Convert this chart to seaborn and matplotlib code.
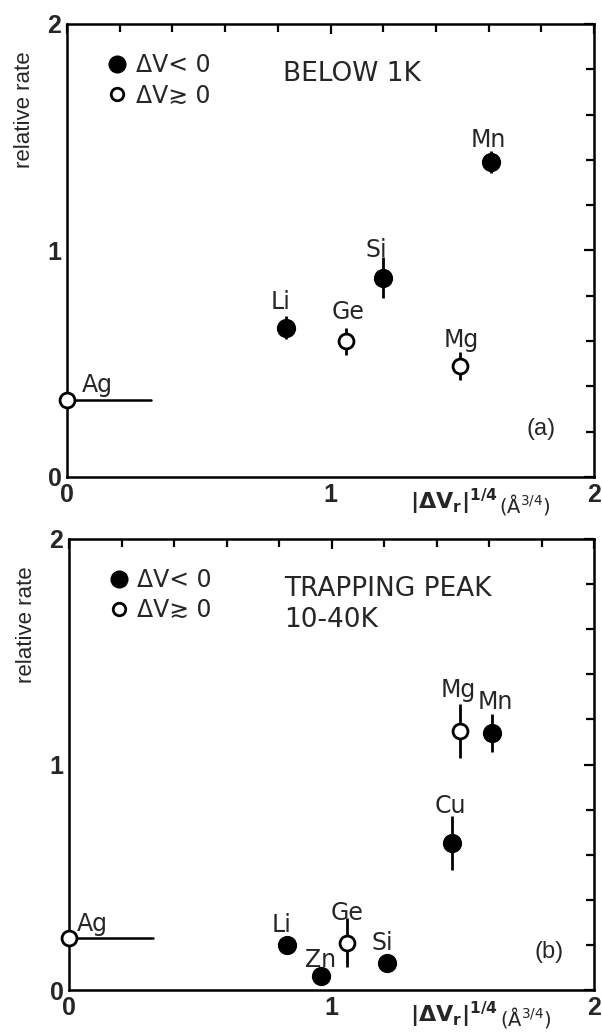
import pandas as pd
import seaborn as sns
import matplotlib.pyplot as plt
from matplotlib.lines import Line2D
from matplotlib.ticker import MultipleLocator

# panel (a): below 1K
elem_a = ['Ag', 'Li', 'Ge', 'Si', 'Mg', 'Mn']
x_a = [0.0, 0.83, 1.06, 1.20, 1.49, 1.61]
rate_a = [0.34, 0.66, 0.60, 0.88, 0.49, 1.39]
err_a = [0.0, 0.05, 0.06, 0.09, 0.06, 0.05]
neg_a = [False, True, False, True, False, True]

# panel (b): trapping peak 10-40K
elem_b = ['Ag', 'Li', 'Zn', 'Ge', 'Si', 'Cu', 'Mg', 'Mn']
x_b = [0.0, 0.83, 0.96, 1.06, 1.21, 1.46, 1.49, 1.61]
rate_b = [0.23, 0.20, 0.06, 0.21, 0.12, 0.65, 1.15, 1.14]
err_b = [0.0, 0.03, 0.04, 0.11, 0.0, 0.12, 0.12, 0.085]
neg_b = [False, True, True, False, True, True, False, True]

major_ticks = [0, 1, 2]
tick_labels = ['0', '1', '2']

# Ag reference line runs out to this x
ag_line_end = 0.32

# label offsets (points) from each marker
offs_a = {'Ag': (22, 6), 'Li': (-4, 13), 'Ge': (1, 16), 'Si': (-5, 15),
          'Mg': (1, 14), 'Mn': (-2, 11)}
offs_b = {'Ag': (17, 5), 'Li': (-4, 9), 'Zn': (0, 6.5), 'Ge': (0, 16),
          'Si': (-3, 9), 'Cu': (-1, 22), 'Mg': (-1, 24), 'Mn': (3, 17)}

sns.set_style('white')
plt.rcParams['font.family'] = ['DejaVu Sans']

tick_font = dict(fontsize=18, fontweight='bold', family='Liberation Sans')


def panel(ax, elem, x, rate, err, neg, offs, title, tag, tag_xy):
    df = pd.DataFrame({'elem': elem, 'x': x, 'rate': rate, 'err': err, 'neg': neg})

    # Ag horizontal line
    ag = df[df['elem'] == 'Ag']
    ax.plot([0, ag_line_end], [ag['rate'].iloc[0]] * 2, color='black', lw=1.8, zorder=2)

    # error bars
    e = df[df['err'] > 0]
    ax.errorbar(e['x'], e['rate'], yerr=e['err'], fmt='none', ecolor='black',
                elinewidth=2, capsize=0, zorder=2)

    sns.scatterplot(data=df[df['neg']], x='x', y='rate', color='black',
                    edgecolor='black', s=165, linewidth=1, ax=ax, zorder=3, clip_on=False)
    sns.scatterplot(data=df[~df['neg']], x='x', y='rate', color='white',
                    edgecolor='black', s=115, linewidth=2, ax=ax, zorder=3, clip_on=False)

    for _, r in df.iterrows():
        ax.annotate(r['elem'], (r['x'], r['rate']), xytext=offs[r['elem']],
                    textcoords='offset points', ha='center', va='baseline',
                    fontsize=17)

    ax.set_xlim(0, 2)
    ax.set_ylim(0, 2)
    ax.set_xticks(major_ticks)
    ax.set_yticks(major_ticks)
    ax.set_xticklabels(tick_labels, **tick_font)
    ax.set_yticklabels(tick_labels, **tick_font)
    ax.xaxis.set_minor_locator(MultipleLocator(0.2))
    ax.yaxis.set_minor_locator(MultipleLocator(0.2))
    ax.tick_params(which='both', direction='in', top=True, right=True,
                   width=1.6, color='black')
    ax.tick_params(which='major', length=7, pad=4)
    ax.tick_params(which='minor', length=5.5)
    for s in ax.spines.values():
        s.set_linewidth(1.8)
        s.set_color('black')

    ax.set_xlabel('')
    ax.set_ylabel('relative rate', fontsize=16, family='Liberation Sans')
    ax.yaxis.set_label_coords(-0.06, 0.81)

    # x axis label written under the right part
    tr = ax.get_xaxis_transform()
    ax.text(1.30, -0.055, r'$\mathbf{|\Delta V_r|^{1/4}}$', transform=tr,
            fontsize=16, ha='left', va='center')
    ax.text(1.64, -0.06, '(Å$^{3/4}$)', transform=tr, fontsize=14,
            ha='left', va='center')

    handles = [Line2D([], [], marker='o', ls='none', mfc='black', mec='black', ms=12),
               Line2D([], [], marker='o', ls='none', mfc='white', mec='black',
                      ms=9, mew=2)]
    ax.legend(handles, ['ΔV< 0', 'ΔV≳ 0'], loc='upper left',
              bbox_to_anchor=(0.072, 0.935), frameon=False, fontsize=17,
              handletextpad=0.3, labelspacing=0.25, handlelength=1,
              borderpad=0, borderaxespad=0)

    for i, t in enumerate(title):
        ax.text(0.82, 1.78 - 0.14 * i, t, fontsize=19, ha='left', va='center')

    ax.text(tag_xy[0], tag_xy[1], tag, fontsize=17, family='Liberation Sans',
            ha='center', va='center')


fig = plt.figure(figsize=(6.02, 10.32), dpi=100)
ax1 = fig.add_axes([67 / 602, 1 - 477 / 1032, 527 / 602, 453 / 1032])
ax2 = fig.add_axes([69 / 602, 1 - 990 / 1032, 525 / 602, 451 / 1032])

panel(ax1, elem_a, x_a, rate_a, err_a, neg_a, offs_a, ['BELOW 1K'], '(a)', (1.80, 0.21))
panel(ax2, elem_b, x_b, rate_b, err_b, neg_b, offs_b,
      ['TRAPPING PEAK', '10-40K'], '(b)', (1.83, 0.17))

fig.savefig('out.png', dpi=100)
